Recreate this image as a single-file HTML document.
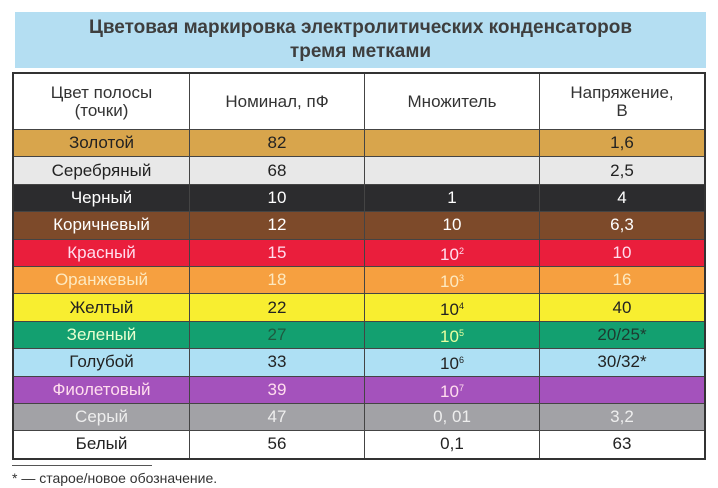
<!DOCTYPE html>
<html><head><meta charset="utf-8"><style>
body{margin:0;width:718px;height:488px;background:#fff;position:relative;overflow:hidden;font-family:"Liberation Sans Narrow","Liberation Sans",sans-serif;}
.t{position:absolute;left:15px;top:12px;width:691px;height:56px;background:#b4def2;color:#3e3e3e;font-weight:bold;font-size:19px;text-align:center;line-height:24px;padding-top:4px;box-sizing:border-box;}
table{position:absolute;left:12px;top:72px;width:694px;border-collapse:collapse;border:2px solid #333;}
td{border:1px solid #444;text-align:center;font-size:17px;height:26.4px;padding:0;line-height:18px;color:#222;}
td.a{width:175px}td.b{width:174px}td.c{width:174px}
tr.h td{height:55px;background:#fff;color:#333;}
sup{font-size:9px;vertical-align:6px;}
.f{position:absolute;left:12px;top:470px;font-size:14px;color:#333;}
.l{position:absolute;left:12px;top:465px;width:140px;border-top:1px solid #555;}
</style></head><body>
<div class="t">Цветовая маркировка электролитических конденсаторов<br>тремя метками</div>
<table>
<tr class="h"><td class="a">Цвет полосы<br>(точки)</td><td class="b">Номинал, пФ</td><td class="c">Множитель</td><td>Напряжение,<br>В</td></tr>
<tr style="background:#d8a54c"><td>Золотой</td><td>82</td><td></td><td>1,6</td></tr>
<tr style="background:#e8e8e8"><td>Серебряный</td><td>68</td><td></td><td>2,5</td></tr>
<tr style="background:#2c2c2e;color:#fff"><td style="color:#fff">Черный</td><td style="color:#fff">10</td><td style="color:#fff">1</td><td style="color:#fff">4</td></tr>
<tr style="background:#7d4a2a"><td style="color:#fff">Коричневый</td><td style="color:#fff">12</td><td style="color:#fff">10</td><td style="color:#fff">6,3</td></tr>
<tr style="background:#ea1e3c"><td style="color:#fde">Красный</td><td style="color:#fde">15</td><td style="color:#fde">10<sup>2</sup></td><td style="color:#fde">10</td></tr>
<tr style="background:#f6a040"><td style="color:#fde9c0">Оранжевый</td><td style="color:#fde9c0">18</td><td style="color:#fde9c0">10<sup>3</sup></td><td style="color:#fde9c0">16</td></tr>
<tr style="background:#f8ee30"><td>Желтый</td><td>22</td><td>10<sup>4</sup></td><td>40</td></tr>
<tr style="background:#13a070"><td style="color:#e8ffd0">Зеленый</td><td style="color:#1e5a40">27</td><td style="color:#e8ffa0">10<sup>5</sup></td><td style="color:#1e3a30">20/25*</td></tr>
<tr style="background:#aee0f4"><td>Голубой</td><td>33</td><td>10<sup>6</sup></td><td>30/32*</td></tr>
<tr style="background:#a452bc"><td style="color:#fde">Фиолетовый</td><td style="color:#fde">39</td><td style="color:#fde">10<sup>7</sup></td><td></td></tr>
<tr style="background:#a2a2a6"><td style="color:#eee">Серый</td><td style="color:#eee">47</td><td style="color:#eee">0, 01</td><td style="color:#eee">3,2</td></tr>
<tr style="background:#fff"><td>Белый</td><td>56</td><td>0,1</td><td>63</td></tr>
</table>
<div class="l"></div>
<div class="f">* — старое/новое обозначение.</div>
</body></html>
